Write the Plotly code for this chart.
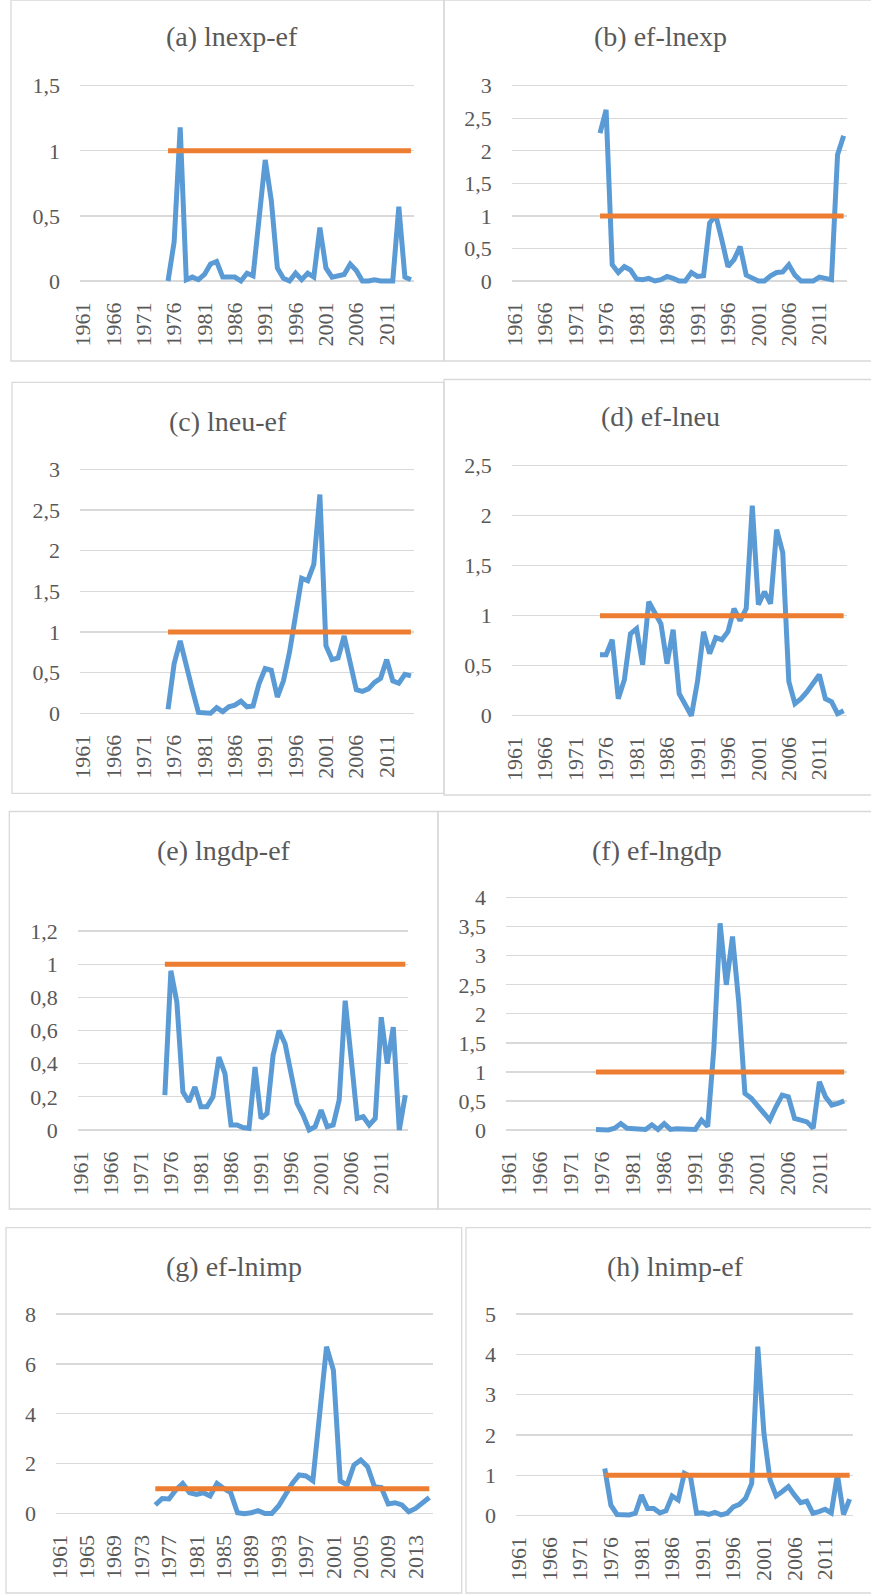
import plotly.graph_objects as go

W, H = 871, 1595

# Years on the category axis and the years with test statistics
axis_years = list(range(1961, 2016))
years = list(range(1975, 2016))
threshold = [1] * len(years)

lnexp_ef = [0.00, 0.30, 1.18, 0.01, 0.03, 0.01, 0.05, 0.13, 0.15, 0.03,
            0.03, 0.03, 0.00, 0.06, 0.04, 0.45, 0.93, 0.62, 0.10, 0.02,
            0.00, 0.06, 0.01, 0.06, 0.03, 0.41, 0.10, 0.03, 0.04, 0.05,
            0.13, 0.08, 0.00, 0.00, 0.01, 0.00, 0.00, 0.00, 0.57, 0.03, 0.01]
ef_lnexp = [2.27, 2.63, 0.25, 0.13, 0.22, 0.17, 0.03, 0.02, 0.04, 0.00,
            0.02, 0.07, 0.04, 0.00, 0.00, 0.13, 0.07, 0.08, 0.89, 1.01,
            0.63, 0.22, 0.33, 0.53, 0.09, 0.04, 0.00, 0.00, 0.08, 0.13,
            0.14, 0.25, 0.09, 0.00, 0.00, 0.00, 0.06, 0.03, 0.02, 1.94, 2.23]
lneu_ef = [0.05, 0.61, 0.89, 0.57, 0.29, 0.01, 0.00, 0.00, 0.07, 0.02,
           0.08, 0.10, 0.15, 0.08, 0.09, 0.37, 0.55, 0.53, 0.20, 0.40,
           0.75, 1.19, 1.66, 1.63, 1.83, 2.69, 0.83, 0.66, 0.68, 0.95,
           0.59, 0.29, 0.27, 0.30, 0.38, 0.43, 0.66, 0.40, 0.37, 0.48, 0.46]
ef_lneu = [0.61, 0.61, 0.76, 0.17, 0.36, 0.82, 0.87, 0.51, 1.14, 1.02,
           0.92, 0.52, 0.86, 0.22, 0.11, 0.00, 0.34, 0.84, 0.62, 0.78,
           0.76, 0.84, 1.07, 0.95, 1.07, 2.10, 1.11, 1.24, 1.12, 1.86,
           1.63, 0.34, 0.12, 0.17, 0.24, 0.32, 0.41, 0.17, 0.14, 0.02, 0.05]
lngdp_ef = [0.21, 0.96, 0.77, 0.23, 0.17, 0.26, 0.14, 0.14, 0.20, 0.44,
            0.34, 0.03, 0.03, 0.015, 0.01, 0.38, 0.07, 0.10, 0.45, 0.60,
            0.52, 0.34, 0.16, 0.09, 0.00, 0.02, 0.12, 0.02, 0.03, 0.18,
            0.78, 0.43, 0.07, 0.08, 0.03, 0.07, 0.68, 0.40, 0.62, 0.00, 0.21]
ef_lngdp = [0.01, 0.00, 0.00, 0.03, 0.11, 0.03, 0.02, 0.02, 0.01, 0.09,
            0.01, 0.11, 0.01, 0.02, 0.02, 0.01, 0.01, 0.17, 0.06, 1.41,
            3.56, 2.50, 3.33, 2.21, 0.63, 0.55, 0.43, 0.32, 0.17, 0.40,
            0.60, 0.57, 0.20, 0.17, 0.14, 0.03, 0.83, 0.57, 0.43, 0.46, 0.50]
ef_lnimp = [0.35, 0.61, 0.59, 0.95, 1.21, 0.84, 0.77, 0.84, 0.71, 1.21,
            1.01, 0.84, 0.04, 0.00, 0.04, 0.12, 0.01, 0.01, 0.31, 0.81,
            1.21, 1.55, 1.51, 1.32, 4.02, 6.69, 5.75, 1.31, 1.15, 1.95,
            2.15, 1.88, 1.08, 1.05, 0.39, 0.44, 0.35, 0.08, 0.21, 0.44, 0.65]
lnimp_ef = [1.17, 0.26, 0.03, 0.02, 0.02, 0.06, 0.51, 0.18, 0.18, 0.07,
            0.12, 0.49, 0.39, 1.05, 0.97, 0.06, 0.07, 0.03, 0.08, 0.02,
            0.06, 0.22, 0.28, 0.43, 0.80, 4.19, 2.04, 0.88, 0.49, 0.60,
            0.72, 0.51, 0.32, 0.36, 0.06, 0.10, 0.16, 0.07, 1.02, 0.03, 0.41]

titles = ["(a) lnexp-ef", "(b) ef-lnexp", "(c) lneu-ef", "(d) ef-lneu",
          "(e) lngdp-ef", "(f) ef-lngdp", "(g) ef-lnimp", "(h) lnimp-ef"]
series = [lnexp_ef, ef_lnexp, lneu_ef, ef_lneu,
          lngdp_ef, ef_lngdp, ef_lnimp, lnimp_ef]
y_max = [1.5, 3, 3, 2.5, 1.2, 4, 8, 5]
y_step = [0.5, 0.5, 0.5, 0.5, 0.2, 0.5, 2, 1]
x_step = [5, 5, 5, 5, 5, 5, 4, 5]

# Page geometry in pixels: plot left/right, zero line, top gridline,
# title centre and the frame drawn around each small chart.
frames = [
    dict(px=(80, 414), y0=281, ytop=85.7, tc=(232, 37), box=(11, 0, 444, 361)),
    dict(px=(511.7, 846.7), y0=281, ytop=85.7, tc=(660, 37), box=(444, 0, 880, 361)),
    dict(px=(80, 414), y0=713.3, ytop=469.3, tc=(228, 421.7), box=(12, 382.3, 444, 793.3)),
    dict(px=(511.7, 846.7), y0=715.7, ytop=465.7, tc=(660, 416.7), box=(444, 379.5, 880, 795)),
    dict(px=(77.7, 408.3), y0=1130, ytop=931, tc=(224, 850), box=(9.3, 811.5, 438, 1209)),
    dict(px=(506, 847.3), y0=1130, ytop=897.7, tc=(657, 850), box=(438, 811.5, 880, 1209)),
    dict(px=(56, 432.7), y0=1513.7, ytop=1314, tc=(234, 1266.7), box=(6, 1227.7, 461.7, 1593)),
    dict(px=(516, 852.7), y0=1515.7, ytop=1314, tc=(675, 1266.7), box=(466, 1227.7, 880, 1593)),
]

BLUE = "#5B9BD5"
ORANGE = "#ED7D31"
GRID = "#D9D9D9"
TEXT = "#595959"
FONT = "Liberation Serif, Times New Roman, serif"
PAD = 4  # extra room so thick lines at zero are not clipped

fig = go.Figure()
layout = dict(
    width=W, height=H, autosize=False,
    margin=dict(l=0, r=0, t=0, b=0, pad=0, autoexpand=False),
    paper_bgcolor="white", plot_bgcolor="white",
    showlegend=False, font=dict(family=FONT, color=TEXT),
    shapes=[], annotations=[],
)


def fx(p):
    return p / W


def fy(p):
    return 1 - p / H


for i, (title, vals, fr) in enumerate(zip(titles, series, frames)):
    n = "" if i == 0 else str(i + 1)
    xa, ya = "x" + n, "y" + n
    ppu = (fr["y0"] - fr["ytop"]) / y_max[i]
    pad_v = PAD / ppu

    fig.add_trace(go.Scatter(x=years, y=vals, mode="lines", xaxis=xa, yaxis=ya,
                             line=dict(color=BLUE, width=5), hoverinfo="skip"))
    fig.add_trace(go.Scatter(x=years, y=threshold, mode="lines", xaxis=xa, yaxis=ya,
                             line=dict(color=ORANGE, width=5), hoverinfo="skip"))

    xt = [y for y in axis_years if (y - 1961) % x_step[i] == 0]
    nt = int(round(y_max[i] / y_step[i]))
    yt = [round(k * y_step[i], 3) for k in range(nt + 1)]
    ytxt = [("%g" % v).replace(".", ",") for v in yt]

    layout["xaxis" + n] = dict(
        domain=[fx(fr["px"][0]), fx(fr["px"][1])],
        range=[1960.5, 2015.5], anchor=ya, automargin=False,
        tickmode="array", tickvals=xt, ticktext=[str(v) for v in xt],
        tickangle=-90, showgrid=False, zeroline=False, showline=False,
        ticks="", ticklabelstandoff=12,
        tickfont=dict(family=FONT, size=22, color=TEXT), fixedrange=True,
    )
    layout["yaxis" + n] = dict(
        domain=[fy(fr["y0"] + PAD), fy(fr["ytop"] - PAD)],
        range=[-pad_v, y_max[i] + pad_v], anchor=xa, automargin=False,
        tickmode="array", tickvals=yt, ticktext=ytxt,
        showgrid=True, gridcolor=GRID, gridwidth=1.3,
        zeroline=False, showline=False, ticks="", ticklabelstandoff=19,
        tickfont=dict(family=FONT, size=22, color=TEXT), fixedrange=True,
    )
    layout["annotations"].append(dict(
        text=title, x=fx(fr["tc"][0]), y=fy(fr["tc"][1]), xref="paper", yref="paper",
        xanchor="center", yanchor="middle", showarrow=False,
        font=dict(family=FONT, size=28, color=TEXT),
    ))
    bx0, by0, bx1, by1 = fr["box"]
    layout["shapes"].append(dict(
        type="rect", xref="paper", yref="paper",
        x0=fx(bx0), x1=fx(bx1), y0=fy(by1), y1=fy(by0),
        line=dict(color=GRID, width=1.3), fillcolor="rgba(0,0,0,0)", layer="below",
    ))

fig.update_layout(**layout)
fig.write_html("out.html", config={"displayModeBar": False, "staticPlot": True})
